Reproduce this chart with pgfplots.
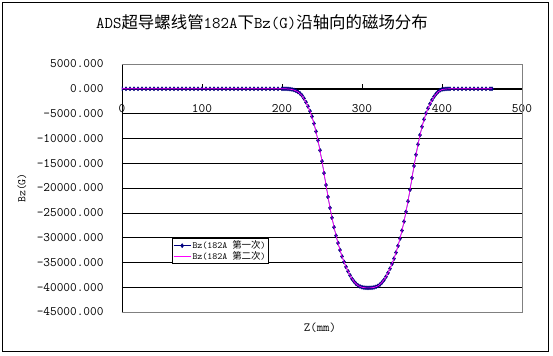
\documentclass[border=0pt]{standalone}
\usepackage{fontspec}
\usepackage{pgfplots}
\pgfplotsset{compat=1.18}
\newfontfamily\cjk{Noto Sans CJK SC}
\definecolor{navyb}{RGB}{0,0,128}
\definecolor{mag}{RGB}{255,0,255}
\definecolor{bordergray}{RGB}{128,128,128}
\begin{document}
\begin{tikzpicture}
\useasboundingbox (-122bp,-44bp) rectangle (431bp,312bp);
\draw[black, line width=1bp] (-119bp,-39bp) rectangle (426bp,309bp);
\node[font=\ttfamily\fontsize{16.5}{17}\selectfont] at (140bp,290bp) {ADS{\cjk 超导螺线管}182A{\cjk 下}Bz(G){\cjk 沿轴向的磁场分布}};
\begin{axis}[name=ax, at={(0,0)}, anchor=south west, scale only axis, width=400bp, height=248bp,
 xmin=0, xmax=500, ymin=-45000, ymax=5000,
 clip marker paths=true,
 axis x line*=middle, axis y line*=left,
 hide obscured x ticks=false, hide obscured y ticks=false,
 scaled y ticks=false, scaled x ticks=false,
 xtick={0,100,200,300,400,500},
 ytick={-45000,-40000,-35000,-30000,-25000,-20000,-15000,-10000,-5000,0,5000},
 yticklabels={-45000.000,-40000.000,-35000.000,-30000.000,-25000.000,-20000.000,-15000.000,-10000.000,-5000.000,0.000,5000.000},
 xticklabels={0,100,200,300,400,500},
 ymajorgrids, grid style={black, line width=0.6bp},
 tick style={black, line width=0.6bp}, major tick length=5bp, tick align=inside,
 axis line style={black, line width=0.8bp},
 ticklabel style={font=\ttfamily\fontsize{13}{13}\selectfont},
 yticklabel style={xshift=-15bp},
 xticklabel style={anchor=center, yshift=-20bp},
 xlabel={Z(mm)}, ylabel={Bz(G)},
 xlabel style={at={(axis description cs:0.495,-0.0645)}, anchor=center, font=\ttfamily\fontsize{12.5}{13}\selectfont},
 ylabel style={at={(axis description cs:-0.25,0.5)}, anchor=center, font=\ttfamily\fontsize{11.5}{12}\selectfont},
 legend style={at={(axis description cs:0.125,0.298)}, anchor=north west, draw=black, line width=0.6bp,
   font=\ttfamily\fontsize{9.5}{10}\selectfont, inner sep=1bp, row sep=-2bp, nodes={inner sep=1.5bp}},
 legend cell align=left,
]
\addplot[navyb, line width=0.5bp, mark=diamond*, mark size=2bp, mark options={fill=navyb, draw=navyb}] coordinates {
(0,0)(5,0)(10,0)(15,0)(20,0)(25,0)(30,0)(35,0)(40,0)(45,0)(50,0)(55,0)(60,0)(65,0)(70,0)(75,0)(80,0)(85,0)(90,0)(95,0)
(100,0)(105,0)(110,0)(115,0)(120,0)(125,0)(130,0)(135,0)(140,0)(145,0)(150,0)(155,0)(160,0)(165,0)(170,0)(175,0)(180,0)(185,0)(190,0)(195,0)
(200,0)(202.5,0)(205,0)(207.5,-20)(210,-60)(212.5,-130)(215,-240)(217.5,-400)(220,-620)(222.5,-920)(225,-1350)(227.5,-1950)(230,-2700)(232.5,-3550)(235,-4500)(237.5,-5600)
(240,-7000)(242.5,-8600)(245,-10400)(247.5,-12400)(250,-14600)(252.5,-17000)(255,-19400)(257.5,-21800)(260,-24000)(262.5,-26000)(265,-27900)(267.5,-29600)
(270,-31100)(272.5,-32500)(275,-33800)(277.5,-34900)(280,-35900)(282.5,-36800)(285,-37600)(287.5,-38300)(290,-38850)(292.5,-39300)(295,-39650)(297.5,-39850)
(300,-40000)(302.5,-40080)(305,-40120)(307.5,-40130)(310,-40125)(312.5,-40095)(315,-40030)(317.5,-39910)(320,-39730)(322.5,-39440)(325,-39030)(327.5,-38520)
(330,-37880)(332.5,-37120)(335,-36260)(337.5,-35300)(340,-34240)(342.5,-33020)(345,-31660)(347.5,-30200)(350,-28580)(352.5,-26760)(355,-24800)(357.5,-22680)
(360,-20360)(362.5,-17960)(365,-15560)(367.5,-13280)(370,-11200)(372.5,-9320)(375,-7640)(377.5,-6160)(380,-4940)(382.5,-3930)(385,-3040)(387.5,-2250)
(390,-1590)(392.5,-1050)(395,-600)(397.5,-300)(400,-140)(402.5,-60)(405,-20)(407.5,0)(410,0)(415,0)(420,0)(425,0)
(430,0)(435,0)(440,0)(445,0)(450,0)(455,0)(460,0)(462.5,0)
};
\addlegendentry{Bz(182A {\cjk 第一次})}
\addplot[mag, line width=0.7bp] coordinates {
(0,0)(50,0)(100,0)(150,0)(200,0)(205,0)(210,-70)(215,-250)(220,-630)(225,-1370)(230,-2720)(235,-4520)(240,-7020)(245,-10420)(250,-14620)(255,-19420)
(260,-24020)(265,-27920)(270,-31120)(275,-33820)(280,-35920)(285,-37620)(290,-38870)(295,-39670)(300,-40020)(305,-40140)(310,-40140)(315,-40050)
(320,-39750)(325,-39050)(330,-37900)(335,-36280)(340,-34260)(345,-31680)(350,-28600)(355,-24820)(360,-20380)(365,-15580)(370,-11220)(375,-7660)
(380,-4960)(385,-3060)(390,-1610)(395,-620)(400,-150)(405,-25)(410,0)(462.5,0)
};
\addlegendentry{Bz(182A {\cjk 第二次})}
\end{axis}
\draw[bordergray, line width=0.8bp] (ax.north west) -- (ax.north east) -- (ax.south east) -- (ax.south west);
\end{tikzpicture}
\end{document}
